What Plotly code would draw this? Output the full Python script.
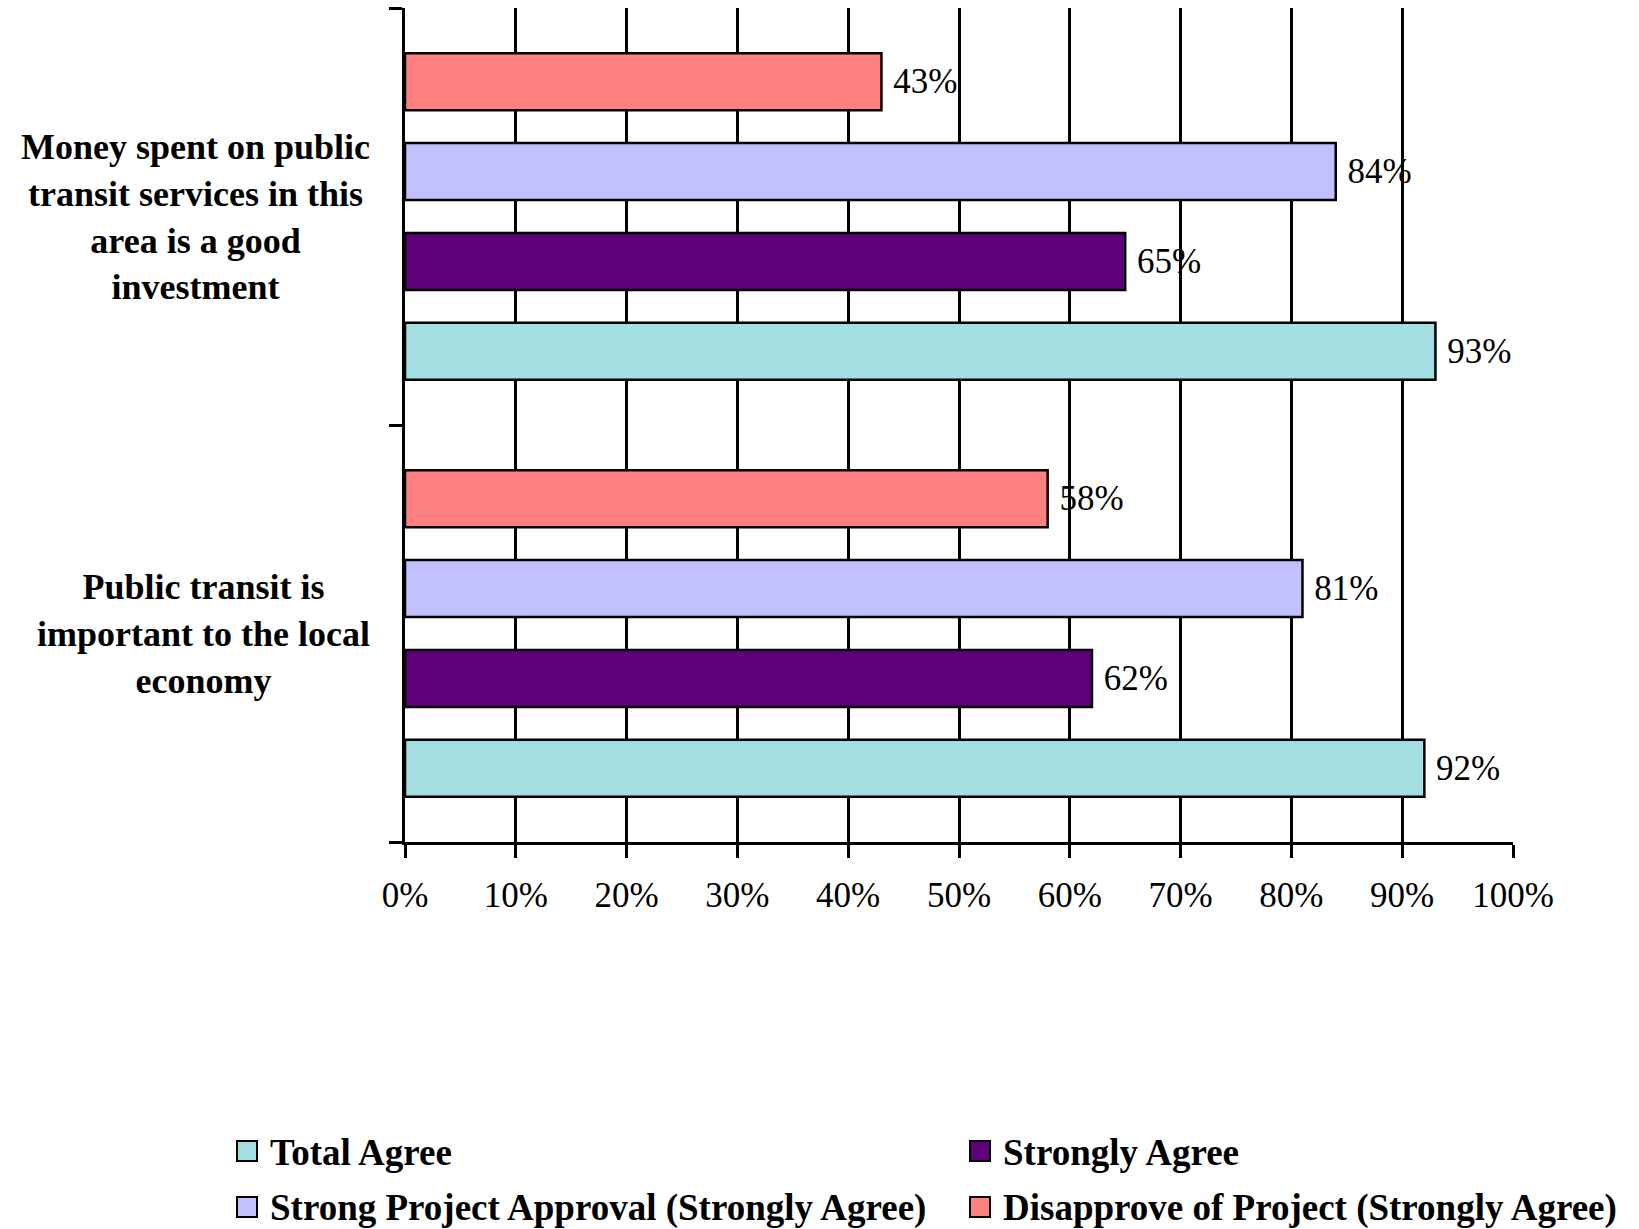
import plotly.graph_objects as go

# Survey statements, listed top to bottom as they appear on the chart
statements = [
    "Money spent on public<br>transit services in this<br>area is a good<br>investment",
    "Public transit is<br>important to the local<br>economy",
]

# Series names (legend order) and their values per statement, in percent
series_names = [
    "Total Agree",
    "Strongly Agree",
    "Strong Project Approval (Strongly Agree)",
    "Disapprove of Project (Strongly Agree)",
]
total_agree = [93, 92]
strongly_agree = [65, 62]
strong_approval = [84, 81]
disapprove = [43, 58]

series_values = [total_agree, strongly_agree, strong_approval, disapprove]
series_colors = ["#A3DFE0", "#5E007A", "#C2C0FE", "#FF8080"]

x_ticks = list(range(0, 101, 10))

FONT = "Liberation Serif"
W, H = 1639, 1229
M_L, M_R, M_T, M_B = 405, 126, 8, 387
PW, PH = W - M_L - M_R, H - M_T - M_B


def px_x(px):
    return (px - M_L) / PW


def px_y(py):
    return (H - M_B - py) / PH


fig = go.Figure()
for name, vals, color in zip(series_names, series_values, series_colors):
    fig.add_trace(go.Bar(
        name=name,
        orientation="h",
        x=vals,
        y=statements,
        marker=dict(color=color, line=dict(color="black", width=2.5)),
        text=["\u00a0" + f"{v}%" for v in vals],
        textposition="outside",
        textfont=dict(family=FONT, size=35, color="black"),
        constraintext="none",
        cliponaxis=False,
        showlegend=False,
    ))

# Statement labels, centred line by line to the left of the axis
annotations = []
for s in statements:
    annotations.append(dict(
        x=px_x(372), xref="paper", y=s, yref="y",
        xanchor="right", yanchor="middle", align="center",
        text="<b>" + s + "</b>", showarrow=False,
        font=dict(family=FONT, size=36, color="black"),
    ))

# Two-column legend below the chart
shapes = []
col_x = [237, 970]
row_y = [1151, 1207]
for i, (name, color) in enumerate(zip(series_names, series_colors)):
    cx = col_x[i % 2]
    cy = row_y[i // 2]
    shapes.append(dict(
        type="rect", xref="paper", yref="paper",
        x0=px_x(cx), x1=px_x(cx + 20), y0=px_y(cy - 10), y1=px_y(cy + 10),
        fillcolor=color, line=dict(color="black", width=2),
    ))
    annotations.append(dict(
        x=px_x(cx + 31), xref="paper", y=px_y(cy + 1), yref="paper",
        xanchor="left", yanchor="middle", align="left",
        text="<b>" + name + "</b>", showarrow=False,
        font=dict(family=FONT, size=37, color="black"),
    ))

fig.update_layout(
    width=W, height=H,
    margin=dict(l=M_L, r=M_R, t=M_T, b=M_B, pad=0),
    paper_bgcolor="white", plot_bgcolor="white",
    barmode="group", bargap=0.139, bargroupgap=0.365,
    showlegend=False,
    annotations=annotations,
    shapes=shapes,
    font=dict(family=FONT, color="black"),
)

fig.update_xaxes(
    range=[0, 100], tickvals=x_ticks, ticktext=[f"{t}%" for t in x_ticks],
    showgrid=True, gridcolor="black", gridwidth=2.5,
    showline=True, linecolor="black", linewidth=2.5,
    ticks="outside", ticklen=13, tickwidth=2.5, tickcolor="black",
    ticklabelstandoff=7,
    zeroline=False,
    tickfont=dict(family=FONT, size=35, color="black"),
)
fig.update_yaxes(
    type="category", categoryorder="array", categoryarray=statements[::-1],
    showgrid=False, showticklabels=False,
    showline=True, linecolor="black", linewidth=2.5,
    ticks="outside", tickson="boundaries", ticklen=13, tickwidth=2.5,
    tickcolor="black", zeroline=False,
)

fig.write_html("out.html")
